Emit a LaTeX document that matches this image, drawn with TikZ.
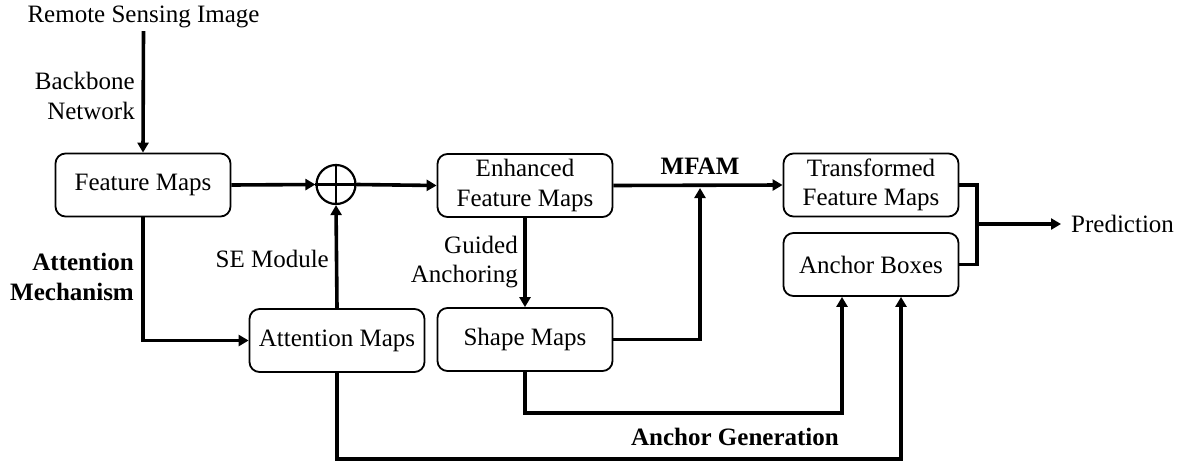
\documentclass[tikz,border=0pt]{standalone}
\usepackage{fontspec}
\setmainfont{Liberation Serif}
\usetikzlibrary{arrows.meta,calc}
\begin{document}
\begin{tikzpicture}[x=1pt,y=-1pt,
  font=\fontsize{25}{29.5}\selectfont,
  box/.style={draw,line width=1.8pt,rounded corners=10pt,minimum width=175pt,minimum height=63pt,align=center,inner sep=2pt},
  lbl/.style={align=right,inner sep=0pt},
  boldlbl/.style={align=right,inner sep=0pt,font=\fontsize{25}{29.5}\selectfont\bfseries},
  conn/.style={line width=3.6pt},
  arr/.style={line width=3.6pt,-{Triangle[length=10pt,width=11pt]}}]
\useasboundingbox (0,0) rectangle (1183,461);
% nodes
\node[inner sep=0pt] (rsi) at (143.5,17) {Remote Sensing Image};
\node[box] (fm) at (143,185) {Feature Maps};
\node[draw,circle,line width=2.2pt,minimum size=39pt,inner sep=0pt] (sum) at (336,184.5) {};
\node[box] (enh) at (525,185.5) {Enhanced\\Feature Maps};
\node[box] (tr) at (871,185) {Transformed\\Feature Maps};
\node[box] (ab) at (871,264.5) {Anchor Boxes};
\node[box] (att) at (337,340.5) {Attention Maps};
\node[box] (sh) at (525,339.5) {Shape Maps};
\node[anchor=west,inner sep=0pt] (pred) at (1071,224) {Prediction};
% labels
\node[lbl,anchor=east] (bb) at (135,96) {Backbone\\Network};
\node[boldlbl,anchor=east] (am) at (134,277) {Attention\\Mechanism};
\node[lbl,anchor=east] (se) at (329,259) {SE Module};
\node[lbl,anchor=east] (ga) at (518,262) {Guided\\Anchoring};
\node[inner sep=0pt,font=\fontsize{25}{29.5}\selectfont\bfseries] (mfam) at (700,166) {MFAM};
\node[inner sep=0pt,font=\fontsize{25}{29.5}\selectfont\bfseries] (ag) at (735,437) {Anchor Generation};
% plus sign
\draw[line width=2.2pt] (sum.north) -- (sum.south) (sum.west) -- (sum.east);
% coordinates
\coordinate (m) at (700,188);
\coordinate (g1) at (842,413);
\coordinate (g2) at (901,459);
\coordinate (br) at (977,224);
% connectors
\draw[arr] (rsi.south) ++(0,3) -- (fm.north);
\draw[arr] (fm.east) -- (sum.west);
\draw[arr] (sum.east) -- (enh.west);
\draw[arr] (enh.east) -- (tr.west);
\draw[arr] (sh.east) -| (m);
\draw[arr] (enh.south) -- (sh.north);
\draw[arr] (fm.south) |- (att.west);
\draw[arr] (att.north) -- (sum.south);
\draw[arr] (sh.south) |- (g1) -- (g1 |- ab.south);
\draw[arr] (att.south) |- (g2) -- (g2 |- ab.south);
\draw[conn,line join=miter] (tr.east) -| (br) |- (ab.east);
\draw[arr] (br) -- ($(pred.west)+(-10,0)$);
\end{tikzpicture}
\end{document}
